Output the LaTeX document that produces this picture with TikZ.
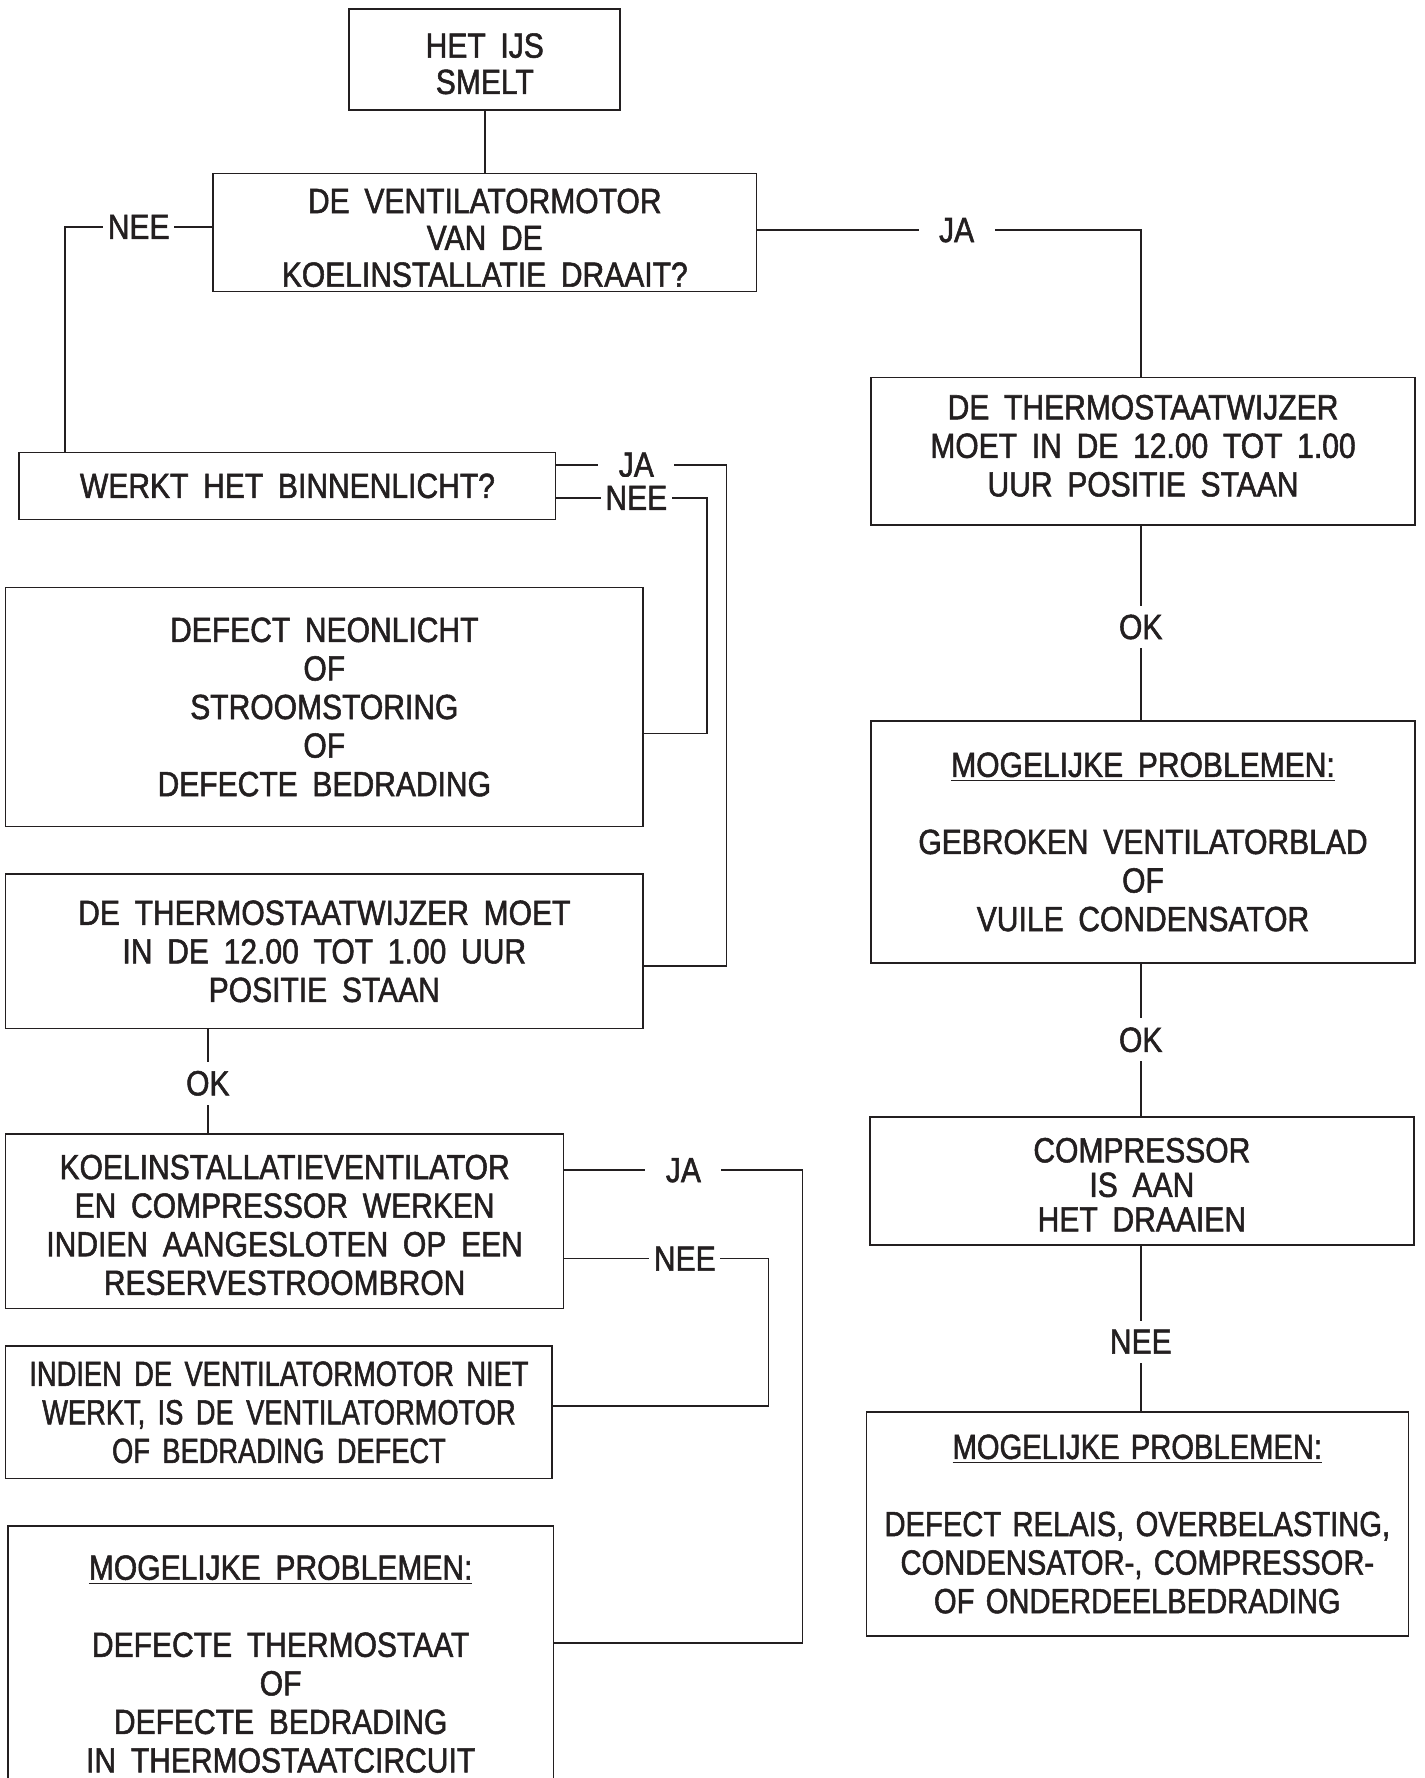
\documentclass[tikz,border=0pt]{standalone}
\usepackage{fontspec}
\setmainfont[FakeStretch=0.86,FakeBold=1.5]{Liberation Sans}
\newfontfamily\hnarrow[FakeStretch=0.78,FakeBold=1.5]{Liberation Sans}
\newfontfamily\lnarrow[FakeStretch=0.835,FakeBold=1.5]{Liberation Sans}
\usetikzlibrary{calc}
\definecolor{ink}{RGB}{35,31,32}
\newcommand\boxfont{\fontsize{15.4pt}{17pt}\selectfont\spaceskip=6.5pt\relax}
\newcommand\hboxfont{\hnarrow\fontsize{15.4pt}{17pt}\selectfont\spaceskip=5.5pt\relax}
\newcommand\lboxfont{\lnarrow\fontsize{15.4pt}{17pt}\selectfont\spaceskip=5pt\relax}
\newcommand\topstrut[1]{\rule{0pt}{#1}}
\newcommand\botstrut[1]{\rule[-#1]{0pt}{#1}}
\begin{document}
\begin{tikzpicture}[x=0.5pt,y=-0.5pt,
  line width=0.7pt,
  color=ink,
  box/.style={draw=ink, rectangle, inner sep=0pt, align=center, text=ink, font=\boxfont},
  sz/.style 2 args={minimum width=#1*0.5pt, minimum height=#2*0.5pt},
  lbl/.style={fill=white, text=ink, font=\boxfont, inner xsep=2pt, inner ysep=4pt},
  ja/.style={inner xsep=9pt}
]
\useasboundingbox (0,0) rectangle (1256,1568);
\clip (0,0) rectangle (1256,1568);
\fill[white] (0,0) rectangle (1256,1568);

% nodes
\node[box, sz={239}{89}] (A) at (427.5,52.5) {\topstrut{14.5pt}HET IJS\\[-1pt]SMELT};
\node[box, sz={479}{104}] (B) at (427.5,205) {\topstrut{15.5pt}DE VENTILATORMOTOR\\[-0.75pt]VAN DE\\[-0.75pt]KOELINSTALLATIE DRAAIT?};
\node[box, sz={473}{59}] (C) at (253.5,428.5) {WERKT HET BINNENLICHT?};
\node[box, sz={480}{130}] (D) at (1008,398) {DE THERMOSTAATWIJZER\\MOET IN DE 12.00 TOT 1.00\\UUR POSITIE STAAN\botstrut{5pt}};
\node[box, sz={562}{211}] (E) at (286,623.5) {DEFECT NEONLICHT\\OF\\STROOMSTORING\\OF\\DEFECTE BEDRADING};
\node[box, sz={562}{136}] (F) at (286,839) {DE THERMOSTAATWIJZER MOET\\IN DE 12.00 TOT 1.00 UUR\\POSITIE STAAN};
\node[box, sz={492}{154}] (G) at (251,1077) {\topstrut{14pt}KOELINSTALLATIEVENTILATOR\\EN COMPRESSOR WERKEN\\INDIEN AANGESLOTEN OP EEN\\RESERVESTROOMBRON};
\node[box, sz={482}{117}, font=\hboxfont] (H) at (246,1245.5) {INDIEN DE VENTILATORMOTOR NIET\\WERKT, IS DE VENTILATORMOTOR\\OF BEDRADING DEFECT};
\node[box, sz={481}{243}] (I) at (247.5,1467.5) {\underline{MOGELIJKE PROBLEMEN:}\\[17pt]DEFECTE THERMOSTAAT\\OF\\DEFECTE BEDRADING\\IN THERMOSTAATCIRCUIT};
\node[box, sz={480}{213}] (J) at (1008,742.5) {\underline{MOGELIJKE PROBLEMEN:}\\[17pt]GEBROKEN VENTILATORBLAD\\OF\\VUILE CONDENSATOR};
\node[box, sz={480}{113}] (K) at (1007,1041.5) {\topstrut{14pt}COMPRESSOR\\[-1.75pt]IS AAN\\[-1.75pt]HET DRAAIEN};
\node[box, sz={478}{198}, font=\lboxfont] (L) at (1003,1344) {\underline{MOGELIJKE PROBLEMEN:}\\[17pt]DEFECT RELAIS, OVERBELASTING,\\CONDENSATOR-, COMPRESSOR-\\OF ONDERDEELBEDRADING};

% connector end points
\coordinate (d1) at ($(D.south)+(-2,0)$);
\coordinate (j1) at ($(J.south)+(-2,0)$);
\coordinate (k1) at ($(K.south)+(-1,0)$);

% connectors
\draw (A.south) -- (B.north);
\draw ($(B.west)+(0,-5)$) -| node[lbl, pos=.25] {NEE} ($(C.north west)+(41,0)$);
\draw ($(B.east)+(0,-2)$) -| node[lbl, ja, pos=.26] {JA} (d1 |- D.north);

\draw ($(C.east)+(0,-18.5)$) -- node[lbl, ja, pos=.47] {JA} ++(150,0) |- ($(F.east)+(0,13)$);
\draw ($(C.east)+(0,10.5)$) -- node[lbl, pos=.53] {NEE} ++(133,0) |- ($(E.east)+(0,23.5)$);

\draw ($(F.south west)+(179,0)$) -- node[lbl, pos=.52] {OK} ($(G.north west)+(179,0)$);

\draw ($(G.east)+(0,-45)$) -- node[lbl, ja, pos=.5] {JA} ++(210,0) |- ($(I.east)+(0,-18.5)$);
\draw ($(G.east)+(0,33)$) -- node[lbl, pos=.59] {NEE} ++(180,0) |- ($(H.east)+(0,-5.5)$);

\draw (d1) -- node[lbl, pos=.52] {OK} (d1 |- J.north);
\draw (j1) -- node[lbl, pos=.5] {OK} (j1 |- K.north);
\draw (k1) -- node[lbl, pos=.58] {NEE} (k1 |- L.north);
\end{tikzpicture}
\end{document}
